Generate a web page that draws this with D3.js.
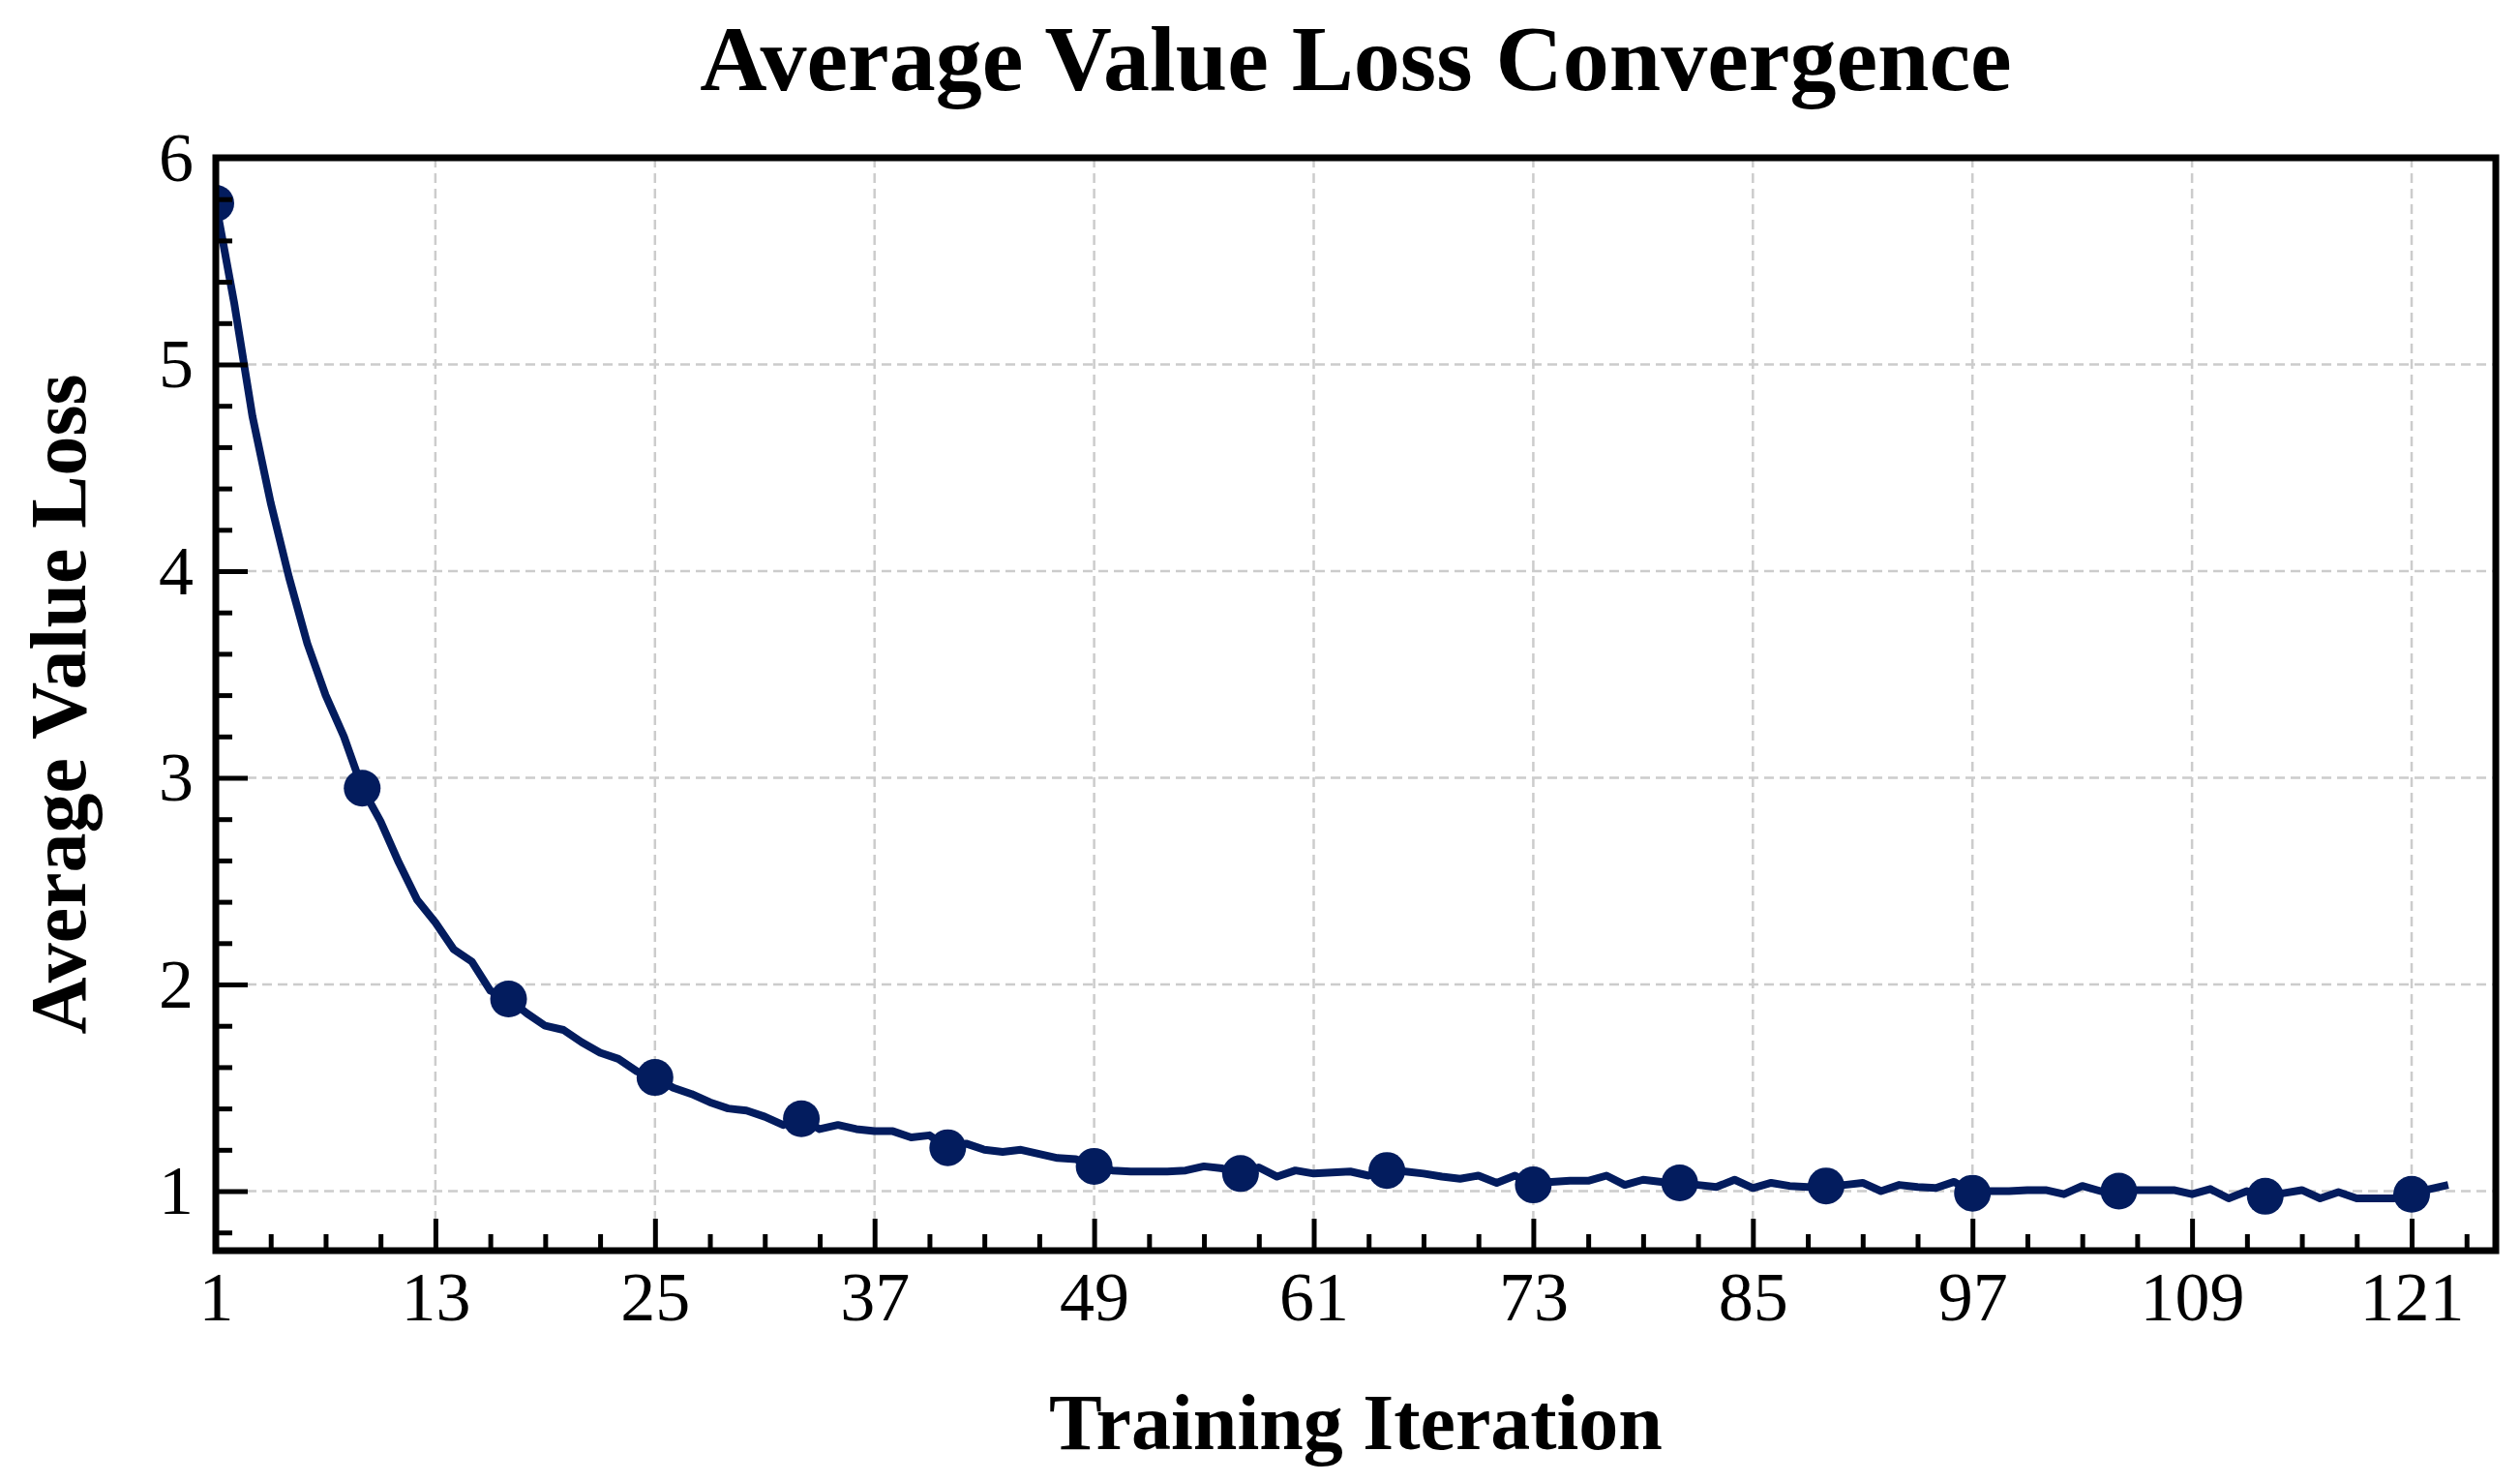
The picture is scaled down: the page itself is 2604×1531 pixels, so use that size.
<!DOCTYPE html>
<html lang="en">

<head>
    <meta charset="UTF-8">
    <title>Average Value Loss Convergence</title>
    <script src="https://d3js.org/d3.v7.min.js"></script>
    <style>
        body { margin: 0; background: #fff; }
        svg text { font-family: "Liberation Serif", "Times New Roman", serif; fill: #000; }
    </style>
</head>

<body>

    <svg id="chart" width="2604" height="1531"></svg>

    <script>
        // loss per training iteration (iteration = index + 1)
        const loss = [
            5.78, 5.30, 4.75, 4.33, 3.97, 3.65, 3.40, 3.20, 2.95, 2.79,
            2.59, 2.41, 2.30, 2.17, 2.11, 1.97, 1.93, 1.86, 1.80, 1.78,
            1.72, 1.67, 1.64, 1.58, 1.55, 1.50, 1.47, 1.43, 1.40, 1.39,
            1.36, 1.32, 1.35, 1.30, 1.32, 1.30, 1.29, 1.29, 1.26, 1.27,
            1.21, 1.23, 1.20, 1.19, 1.20, 1.18, 1.16, 1.155, 1.12, 1.10,
            1.095, 1.095, 1.095, 1.10, 1.12, 1.11, 1.085, 1.115, 1.07, 1.10,
            1.085, 1.09, 1.095, 1.075, 1.10, 1.095, 1.085, 1.07, 1.06, 1.075,
            1.04, 1.075, 1.03, 1.045, 1.05, 1.05, 1.075, 1.03, 1.055, 1.045,
            1.04, 1.03, 1.02, 1.055, 1.015, 1.04, 1.025, 1.02, 1.025, 1.03,
            1.04, 1.00, 1.03, 1.02, 1.015, 1.045, 0.99, 1.00, 1.00, 1.005,
            1.005, 0.985, 1.025, 1.00, 1.00, 1.005, 1.005, 1.005, 0.985, 1.01,
            0.965, 1.00, 0.975, 0.99, 1.005, 0.965, 0.995, 0.965, 0.965, 0.965,
            0.985, 1.01, 1.03
        ];

        const xMajorTicks = [1, 13, 25, 37, 49, 61, 73, 85, 97, 109, 121];
        const yMajorTicks = [1, 2, 3, 4, 5, 6];
        const markEvery = 8;

        const titleText = "Average Value Loss Convergence";
        const xLabelText = "Training Iteration";
        const yLabelText = "Average Value Loss";

        const lineColor = "#031c5e";

        const svg = d3.select("#chart");
        const width = +svg.attr("width");
        const height = +svg.attr("height");

        svg.append("rect").attr("width", width).attr("height", height).attr("fill", "#fff");

        const margin = { left: 223, right: width - 2579, top: 163, bottom: height - 1292 };
        const plotW = width - margin.left - margin.right;
        const plotH = height - margin.top - margin.bottom;

        const points = loss.map((v, i) => ({ x: i + 1, y: v }));

        const xScale = d3.scaleLinear().domain([1, 125.6]).range([0, plotW]);
        const yScale = d3.scaleLinear().domain([0.712, 6]).range([plotH, 0]);

        // minor ticks every 3 iterations and every 0.2 loss
        const xMinorTicks = d3.range(1, 126, 3).filter(t => !xMajorTicks.includes(t));
        const yMinorTicks = d3.range(8, 60, 2).map(t => t / 10).filter(t => !yMajorTicks.includes(t));

        const g = svg.append("g").attr("transform", `translate(${margin.left},${margin.top})`);

        g.append("clipPath").attr("id", "plot-clip")
            .append("rect").attr("width", plotW).attr("height", plotH);

        // grid
        g.append("g").selectAll("line")
            .data(xMajorTicks)
            .enter().append("line")
            .attr("x1", d => xScale(d)).attr("x2", d => xScale(d))
            .attr("y1", 0).attr("y2", plotH)
            .attr("stroke", "#cccccc").attr("stroke-width", 2.5)
            .attr("stroke-dasharray", "10,6");

        g.append("g").selectAll("line")
            .data(yMajorTicks)
            .enter().append("line")
            .attr("x1", 0).attr("x2", plotW)
            .attr("y1", d => yScale(d)).attr("y2", d => yScale(d))
            .attr("stroke", "#cccccc").attr("stroke-width", 2.5)
            .attr("stroke-dasharray", "10,6");

        // line + markers
        const line = d3.line().x(d => xScale(d.x)).y(d => yScale(d.y));
        const series = g.append("g").attr("clip-path", "url(#plot-clip)");

        series.append("path")
            .datum(points)
            .attr("d", line)
            .attr("fill", "none")
            .attr("stroke", lineColor)
            .attr("stroke-width", 8)
            .attr("stroke-linejoin", "round");

        series.selectAll("circle")
            .data(points.filter((d, i) => i % markEvery === 0))
            .enter().append("circle")
            .attr("cx", d => xScale(d.x))
            .attr("cy", d => yScale(d.y))
            .attr("r", 19)
            .attr("fill", lineColor);

        // axes, ticks pointing inward
        function styleAxis(sel, fontSize) {
            sel.select(".domain").remove();
            sel.selectAll(".tick line").attr("stroke", "#000").attr("stroke-width", 5);
            sel.selectAll(".tick text").style("font-size", fontSize + "px");
        }

        g.append("g")
            .attr("transform", `translate(0,${plotH})`)
            .call(d3.axisBottom(xScale).tickValues(xMinorTicks).tickSize(-17).tickFormat(""))
            .call(s => styleAxis(s, 72));

        g.append("g")
            .attr("transform", `translate(0,${plotH})`)
            .call(d3.axisBottom(xScale).tickValues(xMajorTicks).tickSize(-33).tickPadding(21).tickFormat(d3.format("d")))
            .call(s => styleAxis(s, 72));

        g.append("g")
            .call(d3.axisLeft(yScale).tickValues(yMinorTicks).tickSize(-17).tickFormat(""))
            .call(s => styleAxis(s, 72));

        g.append("g")
            .call(d3.axisLeft(yScale).tickValues(yMajorTicks).tickSize(-33).tickPadding(23).tickFormat(d3.format("d")))
            .call(s => styleAxis(s, 72));

        // frame
        g.append("rect")
            .attr("width", plotW).attr("height", plotH)
            .attr("fill", "none").attr("stroke", "#000").attr("stroke-width", 7);

        // title and axis labels
        svg.append("text")
            .attr("x", margin.left + plotW / 2).attr("y", 93)
            .attr("text-anchor", "middle")
            .style("font-size", "96px").style("font-weight", "bold")
            .text(titleText);

        svg.append("text")
            .attr("x", margin.left + plotW / 2).attr("y", 1497)
            .attr("text-anchor", "middle")
            .style("font-size", "82px").style("font-weight", "bold")
            .text(xLabelText);

        svg.append("text")
            .attr("transform", `translate(88,${margin.top + plotH / 2}) rotate(-90)`)
            .attr("text-anchor", "middle")
            .style("font-size", "82px").style("font-weight", "bold")
            .text(yLabelText);
    </script>

</body>

</html>
